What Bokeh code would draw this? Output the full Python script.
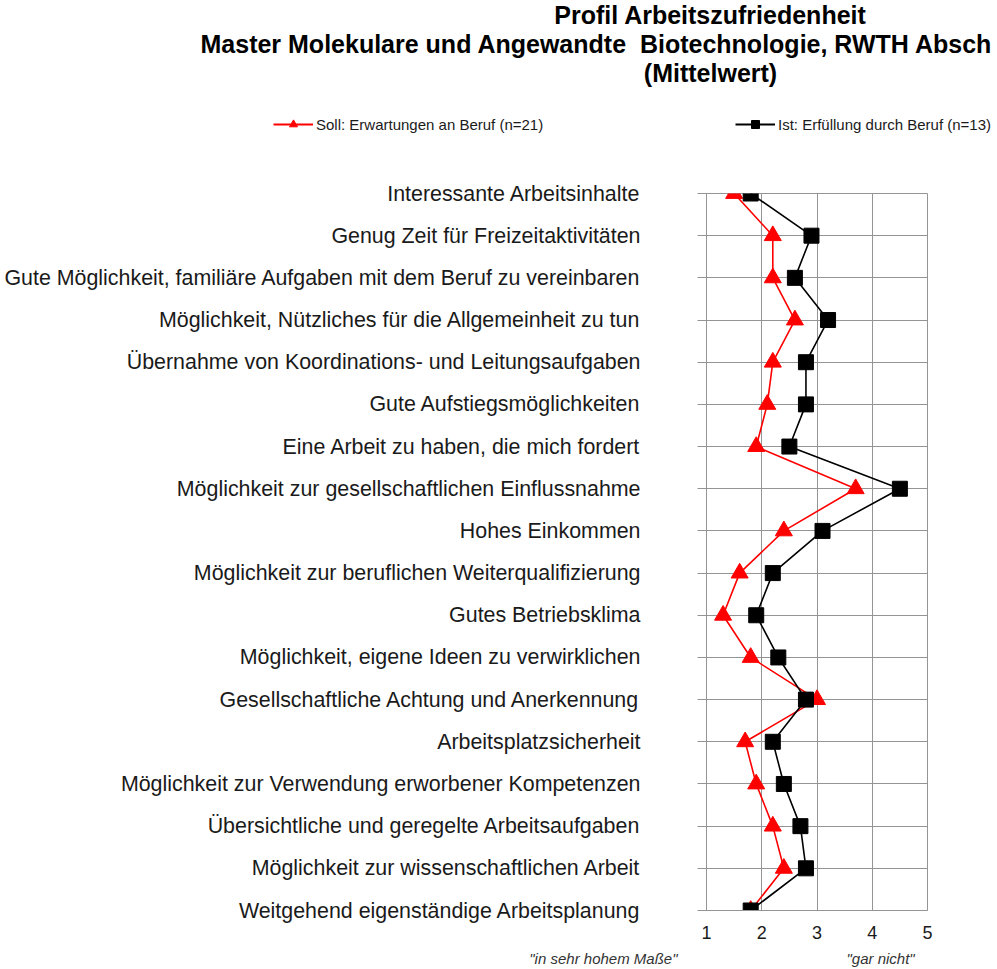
from bokeh.plotting import figure
from bokeh.layouts import column
from bokeh.models import Range1d, FixedTicker, Legend, LegendItem, Label
from bokeh.embed import file_html
from bokeh.resources import INLINE

categories = [
    "Interessante Arbeitsinhalte",
    "Genug Zeit für Freizeitaktivitäten",
    "Gute Möglichkeit, familiäre Aufgaben mit dem Beruf zu vereinbaren",
    "Möglichkeit, Nützliches für die Allgemeinheit zu tun",
    "Übernahme von Koordinations- und Leitungsaufgaben",
    "Gute Aufstiegsmöglichkeiten",
    "Eine Arbeit zu haben, die mich fordert",
    "Möglichkeit zur gesellschaftlichen Einflussnahme",
    "Hohes Einkommen",
    "Möglichkeit zur beruflichen Weiterqualifizierung",
    "Gutes Betriebsklima",
    "Möglichkeit, eigene Ideen zu verwirklichen",
    "Gesellschaftliche Achtung und Anerkennung",
    "Arbeitsplatzsicherheit",
    "Möglichkeit zur Verwendung erworbener Kompetenzen",
    "Übersichtliche und geregelte Arbeitsaufgaben",
    "Möglichkeit zur wissenschaftlichen Arbeit",
    "Weitgehend eigenständige Arbeitsplanung",
]
soll = [1.5, 2.2, 2.2, 2.6, 2.2, 2.1, 1.9, 3.7, 2.4, 1.6, 1.3, 1.8, 3.0, 1.7, 1.9, 2.2, 2.4, 1.8]
ist = [1.8, 2.9, 2.6, 3.2, 2.8, 2.8, 2.5, 4.5, 3.1, 2.2, 1.9, 2.3, 2.8, 2.2, 2.4, 2.7, 2.8, 1.8]
x_ticks = [1, 2, 3, 4, 5]
soll_label = "Soll: Erwartungen an Beruf (n=21)"
ist_label = "Ist: Erfüllung durch Beruf (n=13)"
title_lines = [
    "Profil Arbeitszufriedenheit",
    "Master Molekulare und Angewandte\u00a0 Biotechnologie, RWTH Absch",
    "(Mittelwert)",
]
scale_low = "\"in sehr hohem Maße\""
scale_high = "\"gar nicht\""

rows = list(range(len(categories)))
GRID = "#949494"
FONT = "Liberation Sans"
RED = "#ff0000"
BLACK = "#000000"
W = 995
TOP_H, MAIN_H, BOT_H = 170, 778, 19


def bare(h):
    f = figure(width=W, height=h, x_range=Range1d(0, W), y_range=Range1d(h, 0),
               x_axis_type=None, y_axis_type=None, title_location=None,
               output_backend="svg", toolbar_location=None, frame_align=False,
               min_border=0, min_border_left=0, min_border_right=0,
               min_border_top=0, min_border_bottom=0)
    f.outline_line_color = None
    f.background_fill_color = "white"
    f.border_fill_color = "white"
    return f


# ---- header: title + legend ----
top = bare(TOP_H)
# hidden copies of the series, only used to draw the legend samples
t_line = top.line(soll, rows, line_color=RED, line_width=2, visible=False)
t_tri = top.scatter(soll, rows, marker="triangle", fill_color=RED, line_color=RED,
                    visible=False)
t_bline = top.line(ist, rows, line_color=BLACK, line_width=2, visible=False)
t_sq = top.scatter(ist, rows, marker="square", fill_color=BLACK, line_color=BLACK,
                   visible=False)

title_pos = [(710, 14, "center"), (200, 43, "left"), (710, 72, "center")]
for txt, (tx, ty, al) in zip(title_lines, title_pos):
    top.add_layout(Label(x=tx, y=ty, text=txt, text_align=al, text_baseline="middle",
                         text_font=FONT, text_font_style="bold",
                         text_font_size="25px", text_color=BLACK))

legend = Legend(items=[LegendItem(label=soll_label, renderers=[t_line, t_tri]),
                       LegendItem(label=ist_label, renderers=[t_bline, t_sq])],
                location=(273, TOP_H - 134), orientation="horizontal",
                glyph_width=40, glyph_height=20, label_standoff=3,
                label_width=416, spacing=3, padding=0, margin=0,
                border_line_alpha=0, background_fill_alpha=0,
                label_text_font=FONT, label_text_font_size="15px",
                label_text_color="#1a1a1a")
top.add_layout(legend)

# ---- main chart ----
p = figure(width=W, height=MAIN_H, title_location=None,
           x_range=Range1d(1, 5), y_range=Range1d(len(categories) - 1, 0),
           output_backend="svg", toolbar_location=None, frame_align=False,
           min_border_left=706, min_border_right=W - 927,
           min_border_top=193 - TOP_H, min_border_bottom=TOP_H + MAIN_H - 910)
p.outline_line_color = GRID
p.background_fill_color = "white"
p.border_fill_color = "white"

p.yaxis.ticker = FixedTicker(ticks=rows)
p.yaxis.major_label_overrides = {i: c for i, c in enumerate(categories)}
p.yaxis.axis_line_color = GRID
p.yaxis.major_tick_line_color = GRID
p.yaxis.major_tick_out = 9
p.yaxis.major_tick_in = 0
p.yaxis.minor_tick_line_color = None
p.yaxis.major_label_standoff = 57
p.yaxis.major_label_text_font = FONT
p.yaxis.major_label_text_font_size = "21.4px"
p.yaxis.major_label_text_color = "#1a1a1a"

p.xaxis.ticker = FixedTicker(ticks=x_ticks)
p.xaxis.axis_line_color = GRID
p.xaxis.major_tick_line_color = None
p.xaxis.minor_tick_line_color = None
p.xaxis.major_tick_out = 0
p.xaxis.major_tick_in = 0
p.xaxis.major_label_standoff = 15
p.xaxis.major_label_text_font = FONT
p.xaxis.major_label_text_font_size = "18px"
p.xaxis.major_label_text_color = "#1a1a1a"

p.xgrid.ticker = FixedTicker(ticks=x_ticks)
p.ygrid.ticker = FixedTicker(ticks=rows)
p.xgrid.grid_line_color = GRID
p.ygrid.grid_line_color = GRID

p.line(soll, rows, line_color=RED, line_width=1.6)
p.scatter(soll, rows, marker="triangle", size=17, fill_color=RED, line_color=RED)
p.line(ist, rows, line_color=BLACK, line_width=1.6)
p.scatter(ist, rows, marker="square", size=15, fill_color=BLACK, line_color=BLACK)

# ---- footer: scale anchors ----
bot = bare(BOT_H)
bot.add_layout(Label(x=677, y=10, text=scale_low, text_align="right", text_baseline="middle",
                     text_font=FONT, text_font_style="italic", text_font_size="15px",
                     text_color="#333333"))
bot.add_layout(Label(x=846, y=10, text=scale_high, text_align="left", text_baseline="middle",
                     text_font=FONT, text_font_style="italic", text_font_size="15px",
                     text_color="#333333"))

layout = column(top, p, bot, spacing=0)
open("out.html", "w").write(file_html(layout, INLINE))
